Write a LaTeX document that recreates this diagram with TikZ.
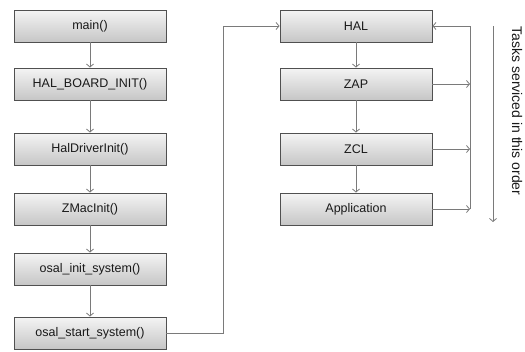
\documentclass[tikz,border=0pt]{standalone}
\usepackage{fontspec}
\setmainfont{Liberation Sans}
\usetikzlibrary{arrows.meta,shadows}
\definecolor{boxtop}{HTML}{F4F4F4}
\definecolor{boxbot}{HTML}{C6C6C6}
\definecolor{boxline}{HTML}{505050}
\definecolor{conn}{HTML}{7A7A7A}
\tikzset{
  box/.style={draw=boxline, line width=0.9pt, top color=boxtop, bottom color=boxbot,
    minimum width=152pt, minimum height=32pt, inner sep=0pt,
    font=\fontsize{12.5}{14}\selectfont, text=black!90,
    drop shadow={shadow xshift=1pt, shadow yshift=-1pt, opacity=0.25, fill=black}},
  conn/.style={draw=conn, line width=0.8pt, -{Straight Barb[length=3pt,width=7pt]}},
  plain/.style={draw=conn, line width=0.8pt}
}
\begin{document}
\begin{tikzpicture}[x=1pt,y=-1pt]
\useasboundingbox (0,0) rectangle (525,351);
% left column
\node[box] (main) at (90,26) {main()};
\node[box] (board) at (90,84) {HAL\_BOARD\_INIT()};
\node[box] (drv) at (90,149) {HalDriverInit()};
\node[box] (zmac) at (90,209) {ZMacInit()};
\node[box] (oinit) at (90,269) {osal\_init\_system()};
\node[box] (ostart) at (90,333) {osal\_start\_system()};
% right column
\node[box] (hal) at (356,26) {HAL};
\node[box] (zap) at (356,84) {ZAP};
\node[box] (zcl) at (356,149) {ZCL};
\node[box] (app) at (356,209) {Application};
% coordinates
\coordinate (turn1) at (223,333);
\coordinate (turn2) at (223,26);
\coordinate (bustop) at (470,26);
\coordinate (busbot) at (470,209);
\coordinate (buszap) at (470,84);
\coordinate (buszcl) at (470,149);
\coordinate (ordtop) at (493,26);
\coordinate (ordbot) at (493,222);
% left chain
\draw[conn] (main) -- (board);
\draw[conn] (board) -- (drv);
\draw[conn] (drv) -- (zmac);
\draw[conn] (zmac) -- (oinit);
\draw[conn] (oinit) -- (ostart);
% to HAL
\draw[conn] (ostart.east) -- (turn1) -- (turn2) -- (hal.west);
% right chain
\draw[conn] (hal) -- (zap);
\draw[conn] (zap) -- (zcl);
\draw[conn] (zcl) -- (app);
% bus
\draw[plain] (busbot) -- (bustop);
\draw[conn] (bustop) -- (hal.east);
\draw[conn] (zap.east) -- (buszap);
\draw[conn] (zcl.east) -- (buszcl);
\draw[conn] (app.east) -- (busbot);
% order arrow
\draw[conn] (ordtop) -- (ordbot);
\node[rotate=-90, font=\fontsize{14}{16}\selectfont, text=black!90, inner sep=0pt] (ordtxt) at (517,111) {Tasks serviced in this order};
\end{tikzpicture}
\end{document}
